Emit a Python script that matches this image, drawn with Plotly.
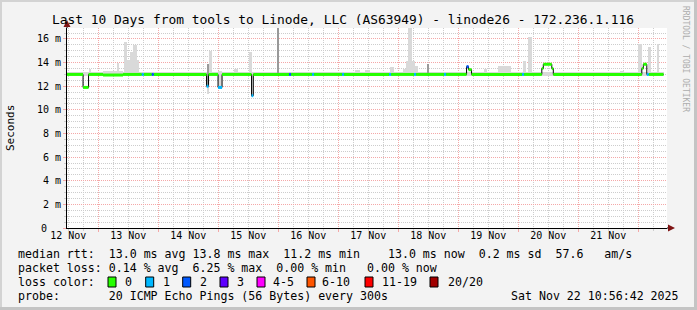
import plotly.graph_objects as go

# ---------------- data ----------------
# time axis: hours since 12 Nov 00:00
x_range = [11.48, 251.48]
y_range = [0, 16.93]

day_labels = ["12 Nov", "13 Nov", "14 Nov", "15 Nov", "16 Nov",
              "17 Nov", "18 Nov", "19 Nov", "20 Nov", "21 Nov"]
day_label_hours = [12, 36, 60, 84, 108, 132, 156, 180, 204, 228]

y_tick_vals = [0, 2, 4, 6, 8, 10, 12, 14, 16]
y_tick_text = ["", "2 m", "4 m", "6 m", "8 m", "10 m", "12 m", "14 m", "16 m"]
y_zero_label = "0"

# median rtt (ms) as step segments: start hour, value, lost pings
med_start = [11.5, 17.9, 20.1, 25.9, 33.9, 41.4, 42.2, 45.4, 46.2, 67.3,
             68.1, 71.9, 73.5, 85.3, 86.0, 100.3, 101.1, 109.5, 110.3, 121.5,
             122.3, 140.3, 141.1, 150.3, 151.1, 162.3, 163.1, 171.3, 172.1, 173.3,
             193.5, 194.3, 201.4, 202.0, 205.4, 206.0, 241.4, 242.0, 243.4, 244.2]
med_ms = [13.0, 11.9, 13.0, 12.95, 13.0, 13.0, 13.0, 13.0, 13.0, 12.0,
          13.0, 11.9, 13.0, 11.2, 13.0, 13.0, 13.0, 13.0, 13.0, 13.0,
          13.0, 13.0, 13.0, 13.0, 13.0, 13.0, 13.0, 13.66, 13.4, 13.0,
          13.0, 13.0, 13.5, 13.86, 13.5, 13.0, 13.5, 13.86, 13.0, 13.0]
med_loss = [0, 0, 0, 0, 0, 1, 0, 2, 0, 1,
            0, 1, 0, 1, 0, 2, 0, 1, 0, 1,
            0, 1, 0, 1, 0, 1, 0, 2, 0, 0,
            1, 0, 0, 0, 0, 0, 0, 0, 1, 0]
med_end = 250.1

# smoke (spread of the individual pings): start hour, end hour, low, high, shade
smoke_start = [11.5, 20.3, 25.9, 31.5, 34.3, 35.5, 36.7, 37.9, 39.5, 67.3,
               68.3, 71.9, 78.3, 84.3, 85.3, 126.7, 130.7, 140.7, 145.9, 147.4,
               148.0, 149.4, 150.7, 178.3, 183.9, 193.9, 195.9, 232.7, 239.9, 243.9,
               247.5, 67.3, 95.3, 155.5]
smoke_end = [250.1, 21.1, 33.9, 32.3, 35.5, 36.7, 37.9, 39.5, 40.3, 68.1,
             69.5, 73.5, 79.9, 85.5, 86.0, 128.7, 132.7, 142.3, 147.4, 148.0,
             149.4, 150.7, 151.9, 179.5, 189.1, 195.1, 197.5, 234.3, 241.5, 245.1,
             248.3, 68.1, 96.3, 156.1]
smoke_lo = [12.85, 12.9, 12.85, 12.9, 12.9, 12.9, 12.9, 12.9, 12.9, 11.35,
            12.9, 11.8, 12.9, 12.9, 11.1, 12.9, 12.9, 12.9, 12.9, 12.9,
            12.9, 12.9, 12.9, 12.9, 12.9, 12.9, 12.9, 12.9, 12.9, 12.9,
            12.9, 12.0, 12.9, 12.9]
smoke_hi = [13.18, 13.5, 13.25, 14.0, 15.75, 14.2, 14.9, 15.5, 14.2, 13.9,
            15.0, 13.3, 13.5, 14.9, 13.2, 13.4, 13.35, 13.6, 13.5, 14.1,
            16.93, 14.1, 13.7, 13.5, 13.7, 14.15, 16.2, 13.3, 15.6, 15.35,
            15.6, 13.9, 16.93, 13.9]
smoke_shade = ["L"] * 31 + ["D", "D", "D"]

loss_colors = {0: "#26ff00", 1: "#00b8ff", 2: "#0059ff", 3: "#5e00ff",
               4: "#ff00ff", 6: "#ff5500", 11: "#ff0000", 20: "#a10000"}
legend_labels = ["0", "1", "2", "3", "4-5", "6-10", "11-19", "20/20"]
legend_keys = [0, 1, 2, 3, 4, 6, 11, 20]
shade_colors = {"L": "#d9d9d9", "D": "#999999"}

title_text = "Last 10 Days from tools to Linode, LLC (AS63949) - linode26 - 172.236.1.116"
line1 = "median rtt:  13.0 ms avg 13.8 ms max  11.2 ms min    13.0 ms now  0.2 ms sd  57.6   am/s"
line2 = "packet loss: 0.14 % avg  6.25 % max  0.00 % min   0.00 % now"
line3 = "loss color:"
line4 = "probe:       20 ICMP Echo Pings (56 Bytes) every 300s"
stamp = "Sat Nov 22 10:56:42 2025"

# ---------------- layout helpers ----------------
W, H = 697, 310
PL, PR, PT, PB = 67, 667, 28, 228
MONO = "DejaVu Sans Mono"


def fx(x):
    return (x - PL) / (PR - PL)


def fy(y):
    return (PB - y) / (PB - PT)


def nb(s):
    return s.replace(" ", "\u00a0")


fig = go.Figure()

# smoke bars
for shade in ["L", "D"]:
    idx = [i for i, s in enumerate(smoke_shade) if s == shade]
    fig.add_trace(go.Bar(
        x=[(smoke_start[i] + smoke_end[i]) / 2 for i in idx],
        width=[smoke_end[i] - smoke_start[i] for i in idx],
        base=[smoke_lo[i] for i in idx],
        y=[smoke_hi[i] - smoke_lo[i] for i in idx],
        marker=dict(color=shade_colors[shade], line=dict(width=0)),
        hoverinfo="skip", xaxis="x", yaxis="y"))

# black median step line (shows the vertical transitions)
fig.add_trace(go.Scatter(
    x=med_start + [med_end], y=med_ms + [med_ms[-1]],
    mode="lines", line=dict(color="#000000", width=1, shape="hv"),
    hoverinfo="skip", xaxis="x2", yaxis="y"))

# coloured horizontal median segments by loss
seg_end = med_start[1:] + [med_end]
for key in sorted(set(med_loss)):
    xs, ys = [], []
    for i, l in enumerate(med_loss):
        if l == key:
            xs += [med_start[i], seg_end[i], None]
            ys += [med_ms[i], med_ms[i], None]
    fig.add_trace(go.Scatter(
        x=xs, y=ys, mode="lines",
        line=dict(color=loss_colors[key], width=3),
        hoverinfo="skip", xaxis="x2", yaxis="y"))

red_grid = "#f4a8a8"
gray_grid = "#cdcdcd"
dash = "1px,1px"

fig.update_layout(
    width=W, height=H,
    margin=dict(l=PL, r=W - PR, t=PT, b=H - PB),
    paper_bgcolor="#f3f3f3", plot_bgcolor="#ffffff",
    showlegend=False, barmode="overlay", bargap=0, hovermode=False,
    xaxis=dict(range=x_range, tick0=0, dtick=24, showgrid=True,
               gridcolor=red_grid, griddash=dash, gridwidth=1,
               showticklabels=False, ticks="outside", ticklen=3,
               tickcolor=red_grid, zeroline=False,
               showline=True, linecolor="#000000", linewidth=1,
               minor=dict(tick0=0, dtick=6, showgrid=True, gridcolor=gray_grid,
                          griddash=dash, ticks="outside", ticklen=2,
                          tickcolor=gray_grid)),
    xaxis2=dict(range=x_range, overlaying="x", side="bottom", anchor="y",
                tickmode="array", tickvals=day_label_hours, ticktext=day_labels,
                showgrid=False, zeroline=False, ticks="", showline=False,
                tickfont=dict(family=MONO, size=10, color="#000000")),
    yaxis=dict(range=y_range, tickmode="array", tickvals=y_tick_vals,
               ticktext=y_tick_text, showgrid=True, gridcolor=red_grid,
               griddash=dash, ticks="outside", ticklen=3, tickcolor=red_grid,
               zeroline=False, showline=True, linecolor="#000000", linewidth=1,
               tickfont=dict(family=MONO, size=10, color="#000000"),
               minor=dict(tick0=0, dtick=0.5, showgrid=True, gridcolor=gray_grid,
                          griddash=dash, ticks="outside", ticklen=2,
                          tickcolor=gray_grid)),
)

shapes = []
# 3D frame
shapes.append(dict(type="rect", xref="paper", yref="paper", x0=fx(0), x1=fx(W),
                   y0=fy(0), y1=fy(2), fillcolor="#d3d3d3", line=dict(width=0), layer="below"))
shapes.append(dict(type="rect", xref="paper", yref="paper", x0=fx(0), x1=fx(2),
                   y0=fy(0), y1=fy(H), fillcolor="#d3d3d3", line=dict(width=0), layer="below"))
shapes.append(dict(type="rect", xref="paper", yref="paper", x0=fx(W - 3), x1=fx(W),
                   y0=fy(0), y1=fy(H), fillcolor="#c4c4c4", line=dict(width=0), layer="below"))
shapes.append(dict(type="rect", xref="paper", yref="paper", x0=fx(0), x1=fx(W),
                   y0=fy(H - 3), y1=fy(H), fillcolor="#c4c4c4", line=dict(width=0), layer="below"))
# axis extensions and arrows
shapes.append(dict(type="line", xref="paper", yref="paper", x0=fx(PL), x1=fx(PL),
                   y0=fy(PT), y1=fy(23), line=dict(color="#000000", width=1)))
shapes.append(dict(type="line", xref="paper", yref="paper", x0=fx(PR), x1=fx(670),
                   y0=fy(PB), y1=fy(PB), line=dict(color="#000000", width=1)))
arrow = "#7f1414"
shapes.append(dict(type="path", xref="paper", yref="paper",
                   path=f"M {fx(63.5)},{fy(27)} L {fx(70.5)},{fy(27)} L {fx(67)},{fy(20)} Z",
                   fillcolor=arrow, line=dict(color=arrow, width=0)))
shapes.append(dict(type="path", xref="paper", yref="paper",
                   path=f"M {fx(668)},{fy(224.5)} L {fx(668)},{fy(231.5)} L {fx(675)},{fy(228)} Z",
                   fillcolor=arrow, line=dict(color=arrow, width=0)))
# loss color swatches
sw_x = [108, 145.7, 182.7, 220, 257, 307, 365, 430]
lab_x = [123.3, 160.7, 197.7, 235, 271, 320, 380, 445.7]
for sx, key in zip(sw_x, legend_keys):
    shapes.append(dict(type="rect", xref="paper", yref="paper",
                       x0=fx(sx), x1=fx(sx + 8), y0=fy(277), y1=fy(287),
                       fillcolor=loss_colors[key], line=dict(color="#000000", width=1)))

ann = []
txt = dict(family=MONO, size=11.6, color="#000000")
ann.append(dict(text=nb(title_text), x=fx(343.3), y=fy(19), xref="paper", yref="paper",
                xanchor="center", yanchor="middle", showarrow=False,
                font=dict(family=MONO, size=12.9, color="#000000")))
ann.append(dict(text="Seconds", x=fx(10), y=fy(128), xref="paper", yref="paper",
                xanchor="center", yanchor="middle", showarrow=False, textangle=-90,
                font=dict(family=MONO, size=11, color="#000000")))
ann.append(dict(text=nb("RRDTOOL / TOBI OETIKER"), x=fx(686), y=fy(59), xref="paper",
                yref="paper", xanchor="center", yanchor="middle", showarrow=False,
                textangle=90, font=dict(family=MONO, size=8, color="#adadad")))
# y = 0 label, aligned with the digits of the other tick labels
ann.append(dict(text=y_zero_label, x=0, y=y_tick_vals[0], xref="paper", yref="y",
                xanchor="right", yanchor="middle", xshift=-(PL - 49), showarrow=False,
                font=dict(family=MONO, size=10, color="#000000")))
for t, yy in [(line1, 254), (line2, 268), (line3, 282), (line4, 296)]:
    ann.append(dict(text=nb(t), x=fx(16), y=fy(yy), xref="paper", yref="paper",
                    xanchor="left", yanchor="middle", showarrow=False, font=txt))
for lx, lab in zip(lab_x, legend_labels):
    ann.append(dict(text=lab, x=fx(lx), y=fy(282), xref="paper", yref="paper",
                    xanchor="left", yanchor="middle", showarrow=False, font=txt))
ann.append(dict(text=nb(stamp), x=fx(681), y=fy(296), xref="paper", yref="paper",
                xanchor="right", yanchor="middle", showarrow=False, font=txt))

fig.update_layout(shapes=shapes, annotations=ann)

fig.write_html("out.html", config={"displayModeBar": False})
